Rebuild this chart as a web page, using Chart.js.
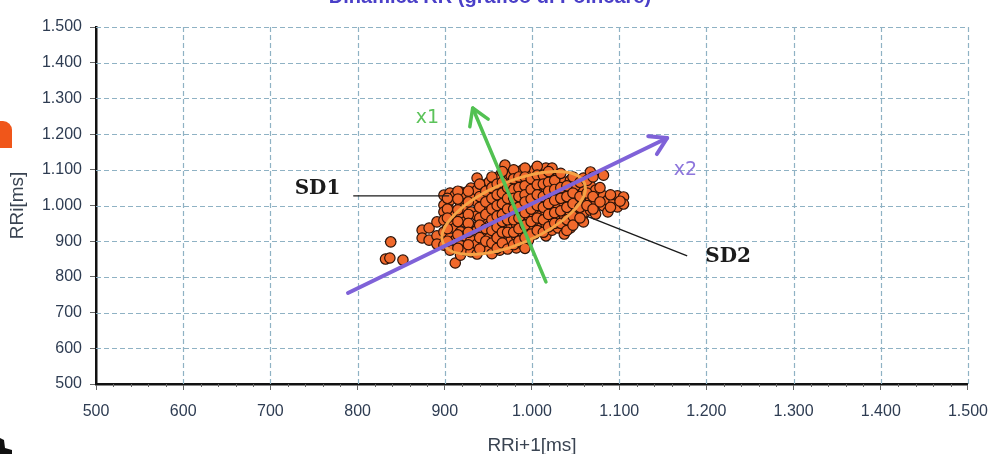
<!DOCTYPE html>
<html>
<head>
<meta charset="utf-8">
<script src="https://cdn.jsdelivr.net/npm/chart.js@4.4.0/dist/chart.umd.min.js"></script>
<style>
  html, body { margin: 0; padding: 0; background: #ffffff; }
  canvas { display: block; }
</style>
</head>
<body>
<canvas id="poincare" width="1000" height="454"></canvas>
<script>
// RRi+1 (x) and RRi (y), ms
const rrNext = [
  832, 837, 838, 852,
  874, 874, 882, 882, 891, 891, 891,
  899, 899, 899, 899, 899, 899,
  906, 906, 906, 906, 906, 906,
  912, 912, 912, 912, 912,
  918, 918, 918, 918, 918, 918,
  923, 923, 923, 923, 923,
  930, 930, 930, 930, 930, 930,
  937, 937, 937, 937, 937, 937, 937,
  944, 944, 944, 944, 944, 944,
  951, 951, 951, 951, 951, 951, 951,
  957, 957, 957, 957, 957, 957, 957,
  963, 963, 963, 963, 963, 963, 963, 963,
  969, 969, 969, 969, 969, 969, 969, 969,
  976, 976, 976, 976, 976, 976, 976,
  982, 982, 982, 982, 982, 982, 982, 982,
  989, 989, 989, 989, 989, 989, 989, 989,
  996, 996, 996, 996, 996, 996, 996,
  1003, 1003, 1003, 1003, 1003, 1003, 1003,
  1010, 1010, 1010, 1010, 1010, 1010,
  1016, 1016, 1016, 1016, 1016, 1016, 1016,
  1023, 1023, 1023, 1023, 1023, 1023, 1023,
  1030, 1030, 1030, 1030, 1030, 1030,
  1037, 1037, 1037, 1037, 1037,
  1044, 1044, 1044, 1044, 1044,
  1051, 1051, 1051, 1051,
  1059, 1059, 1059, 1059, 1059,
  1067, 1067, 1067, 1067,
  1073, 1073, 1073,
  1082, 1082, 1082,
  1087, 1087, 1094, 1098, 1098, 1105, 1105,
  // in-between beats of the dense core
  903, 903, 903, 903, 903,
  915, 915, 915, 915, 915, 915,
  927, 927, 927, 927, 927, 927,
  940, 940, 940, 940, 940, 940, 940,
  947, 947, 947, 947, 947,
  954, 954, 954, 954, 954, 954, 954, 954,
  960, 960, 960, 960, 960, 960, 960,
  966, 966, 966, 966, 966, 966, 966, 966,
  972, 972, 972, 972, 972, 972,
  979, 979, 979, 979, 979, 979, 979, 979,
  985, 985, 985, 985, 985, 985, 985,
  992, 992, 992, 992, 992, 992, 992, 992, 992,
  999, 999, 999, 999, 999, 999,
  1006, 1006, 1006, 1006, 1006, 1006, 1006,
  1013, 1013, 1013, 1013, 1013, 1013,
  1019, 1019, 1019, 1019, 1019, 1019,
  1026, 1026, 1026, 1026, 1026,
  1033, 1033, 1033, 1033, 1033,
  1040, 1040, 1040, 1040, 1040,
  1047, 1047, 1047, 1047, 1047,
  1055, 1055, 1055, 1055,
  1063, 1063, 1063,
  1070, 1070, 1070,
  1078, 1078,
  1090, 1090, 1101
]
const rrCurr = [
  850, 853, 898, 847,
  931, 909, 937, 903, 954, 915, 892,
  1029, 1001, 982, 959, 926, 889,
  1035, 1015, 987, 945, 909, 875,
  1029, 973, 937, 903, 839,
  1038, 1007, 965, 926, 887, 861,
  1032, 993, 954, 915, 875,
  1049, 1021, 982, 943, 903, 870,
  1077, 1043, 1010, 971, 931, 892, 864,
  1057, 1027, 993, 959, 920, 887,
  1066, 1038, 1004, 976, 943, 909, 875,
  1071, 1043, 1015, 982, 954, 926, 892,
  1083, 1055, 1027, 999, 965, 937, 903, 875,
  1113, 1077, 1043, 1015, 982, 948, 915, 887,
  1085, 1060, 1032, 1004, 971, 937, 903,
  1094, 1066, 1038, 1010, 982, 948, 915, 881,
  1099, 1071, 1043, 1021, 993, 959, 926, 892,
  1088, 1060, 1032, 1004, 971, 937, 903,
  1099, 1071, 1049, 1021, 987, 954, 920,
  1094, 1066, 1038, 1004, 971, 937,
  1105, 1077, 1049, 1015, 982, 948, 915,
  1105, 1083, 1055, 1027, 993, 959, 931,
  1080, 1060, 1032, 999, 965, 937,
  1066, 1038, 1004, 971, 920,
  1071, 1043, 1015, 982, 937,
  1057, 1027, 993, 959,
  1077, 1038, 1015, 976, 954,
  1094, 1055, 1015, 987,
  1043, 1004, 976,
  1085, 1027, 999,
  1015, 982, 1010, 1027, 996, 1024, 1004,
  // in-between beats of the dense core
  1020, 990, 965, 935, 900,
  1040, 1018, 988, 955, 918, 880,
  1040, 1010, 975, 950, 925, 890,
  1060, 1025, 995, 965, 945, 910, 878,
  1040, 1010, 975, 935, 900,
  1080, 1050, 1020, 990, 960, 930, 895, 865,
  1060, 1030, 1000, 970, 940, 910, 880,
  1095, 1065, 1035, 1005, 975, 955, 925, 895,
  1050, 1020, 990, 960, 925, 878,
  1100, 1075, 1045, 1020, 990, 960, 925, 890,
  1080, 1050, 1025, 995, 965, 935, 900,
  1105, 1080, 1055, 1030, 1010, 980, 945, 910, 880,
  1075, 1045, 1018, 990, 955, 920,
  1110, 1085, 1058, 1030, 1000, 965, 930,
  1085, 1060, 1025, 995, 960, 925,
  1095, 1065, 1040, 1005, 975, 940,
  1070, 1045, 1015, 980, 950,
  1090, 1050, 1020, 985, 950,
  1055, 1025, 995, 960, 930,
  1080, 1035, 1005, 970, 945,
  1065, 1025, 995, 965,
  1070, 1035, 1000,
  1080, 1025, 990,
  1050, 1010,
  1030, 995, 1012
]

// axes
const axisMin = 500
const axisMax = 1500
const axisStep = 100

// overlay: axes x1 / x2 (start, tip), ellipse and label anchors, in ms
const x1Axis = [[1016, 786], [932, 1273]]
const x2Axis = [[789, 755], [1155, 1189]]
const ellCenter = [979, 979]
const ellMajorTip = [1060, 1063]
const ellMinorTip = [993, 899]
const sd1Line = [[795, 1027], [905, 1027]]
const sd2Line = [[1062, 971], [1178, 859]]
const labels = [
  {text: 'x1', at: [880, 1245], color: '#5cc35a', font: '19px "DejaVu Sans"'},
  {text: 'x2', at: [1176, 1099], color: '#8e76dc', font: '19px "DejaVu Sans"'},
  {text: 'SD1', at: [754, 1046], color: '#1b1b1b', font: 'bold 20px "DejaVu Serif"'},
  {text: 'SD2', at: [1225, 856], color: '#1b1b1b', font: 'bold 20px "DejaVu Serif"'}
]

const tickColor = '#2e3c52'
const gridColor = '#8fb2c4'
const fmt = v => String(v).replace(/\B(?=(\d{3})+(?!\d))/g, '.')

const px = (chart, p) => [chart.scales.x.getPixelForValue(p[0]), chart.scales.y.getPixelForValue(p[1])]

function arrow(ctx, a, b, color, width, head) {
  ctx.save()
  ctx.strokeStyle = color
  ctx.lineWidth = width
  ctx.lineCap = 'round'
  ctx.lineJoin = 'round'
  ctx.beginPath()
  ctx.moveTo(a[0], a[1])
  ctx.lineTo(b[0], b[1])
  ctx.stroke()
  const ang = Math.atan2(b[1] - a[1], b[0] - a[0])
  ctx.beginPath()
  ctx.moveTo(b[0] - head * Math.cos(ang - 0.55), b[1] - head * Math.sin(ang - 0.55))
  ctx.lineTo(b[0], b[1])
  ctx.lineTo(b[0] - head * Math.cos(ang + 0.55), b[1] - head * Math.sin(ang + 0.55))
  ctx.stroke()
  ctx.restore()
}

const overlay = {
  id: 'overlay',
  beforeDatasetsDraw(chart) {
    // dashed grid
    const ctx = chart.ctx
    const {x: xs, y: ys} = chart.scales
    const area = chart.chartArea
    ctx.save()
    ctx.strokeStyle = gridColor
    ctx.lineWidth = 1.2
    ctx.setLineDash([5, 3])
    for (let v = axisMin + axisStep; v <= axisMax; v += axisStep) {
      const x = Math.round(xs.getPixelForValue(v)) + 0.5
      ctx.beginPath()
      ctx.moveTo(x, area.top)
      ctx.lineTo(x, area.bottom)
      ctx.stroke()
      const y = Math.round(ys.getPixelForValue(v)) + 0.5
      ctx.beginPath()
      ctx.moveTo(area.left, y)
      ctx.lineTo(area.right, y)
      ctx.stroke()
    }
    ctx.restore()
  },
  afterDatasetsDraw(chart) {
    const ctx = chart.ctx
    // ellipse
    const c = px(chart, ellCenter), m = px(chart, ellMajorTip), n = px(chart, ellMinorTip)
    const ra = Math.hypot(m[0] - c[0], m[1] - c[1])
    const rb = Math.hypot(n[0] - c[0], n[1] - c[1])
    ctx.save()
    ctx.strokeStyle = '#f5a346'
    ctx.lineWidth = 3
    ctx.beginPath()
    ctx.ellipse(c[0], c[1], ra, rb, Math.atan2(m[1] - c[1], m[0] - c[0]), 0, Math.PI * 2)
    ctx.stroke()
    ctx.restore()

    arrow(ctx, px(chart, x2Axis[0]), px(chart, x2Axis[1]), '#7f62d8', 4, 19)
    arrow(ctx, px(chart, x1Axis[0]), px(chart, x1Axis[1]), '#52c152', 3.5, 19)

    ctx.save()
    ctx.strokeStyle = '#1b1b1b'
    ctx.lineWidth = 1.4
    ;[sd1Line, sd2Line].forEach(l => {
      const a = px(chart, l[0]), b = px(chart, l[1])
      ctx.beginPath()
      ctx.moveTo(a[0], a[1])
      ctx.lineTo(b[0], b[1])
      ctx.stroke()
    })
    ctx.textAlign = 'center'
    ctx.textBaseline = 'middle'
    labels.forEach(l => {
      const p = px(chart, l.at)
      ctx.font = l.font
      ctx.fillStyle = l.color
      ctx.fillText(l.text, p[0], p[1])
    })
    ctx.restore()
  },
  afterDraw(chart) {
    const ctx = chart.ctx
    const xs = chart.scales.x
    const area = chart.chartArea
    ctx.save()
    // minor ticks on x axis
    ctx.strokeStyle = '#666'
    ctx.lineWidth = 1
    for (let v = axisMin; v < axisMax; v += 20) {
      if (v % axisStep === 0) continue
      const x = Math.round(xs.getPixelForValue(v)) + 0.5
      ctx.beginPath()
      ctx.moveTo(x, area.bottom)
      ctx.lineTo(x, area.bottom + 3)
      ctx.stroke()
    }
    // cut-off title at the top
    ctx.fillStyle = '#4a3fc8'
    ctx.font = 'bold 20px "Liberation Sans", Arial'
    ctx.textAlign = 'center'
    ctx.textBaseline = 'alphabetic'
    ctx.fillText('Dinamica RR (grafico di Poincaré)', 490, 3)
    // page leftovers at the left edge
    ctx.fillStyle = '#f0561a'
    ctx.beginPath()
    ctx.moveTo(0, 121)
    ctx.lineTo(3, 121)
    ctx.arcTo(12, 121, 12, 130, 9)
    ctx.lineTo(12, 148)
    ctx.lineTo(0, 148)
    ctx.closePath()
    ctx.fill()
    ctx.fillStyle = '#111'
    ctx.beginPath()
    ctx.moveTo(0, 438)
    ctx.lineTo(4, 440)
    ctx.lineTo(5, 448)
    ctx.lineTo(12, 450)
    ctx.lineTo(12, 454)
    ctx.lineTo(0, 454)
    ctx.closePath()
    ctx.fill()
    ctx.restore()
  }
}

const tickFont = {family: '"Liberation Sans", Arial', size: 16}
const titleFont = {family: '"Liberation Sans", Arial', size: 19, lineHeight: 1}

new Chart(document.getElementById('poincare').getContext('2d'), {
  type: 'scatter',
  data: {
    datasets: [{
      data: rrNext.map((x, i) => ({x: x, y: rrCurr[i]})),
      backgroundColor: '#f0692c',
      borderColor: '#2a1208',
      borderWidth: 1.2,
      pointRadius: 5.2,
      pointHoverRadius: 5.2
    }]
  },
  options: {
    responsive: false,
    animation: false,
    devicePixelRatio: 1,
    layout: {padding: {left: 0, right: 25, top: 27, bottom: 0}},
    plugins: {legend: {display: false}, tooltip: {enabled: false}, title: {display: false}},
    scales: {
      x: {
        type: 'linear', min: axisMin, max: axisMax,
        afterFit: s => { s.height = 70 },
        ticks: {stepSize: axisStep, callback: fmt, color: tickColor, font: tickFont, padding: 12, maxRotation: 0, autoSkip: false},
        grid: {drawOnChartArea: false, color: gridColor, tickLength: 6, tickColor: '#666'},
        border: {display: true, color: '#111', width: 2.5},
        title: {display: true, text: 'RRi+1[ms]', color: '#3a4452', font: titleFont, padding: {top: 2, bottom: -1}}
      },
      y: {
        type: 'linear', min: axisMin, max: axisMax,
        afterFit: s => { s.width = 96 },
        ticks: {stepSize: axisStep, callback: fmt, color: tickColor, font: tickFont, padding: 8, autoSkip: false},
        grid: {drawOnChartArea: false, color: gridColor, tickLength: 6, tickColor: '#666'},
        border: {display: true, color: '#111', width: 2.5},
        title: {display: true, text: 'RRi[ms]', color: '#3a4452', font: titleFont, padding: {top: 8, bottom: 0}}
      }
    }
  },
  plugins: [overlay]
})
</script>
</body>
</html>
